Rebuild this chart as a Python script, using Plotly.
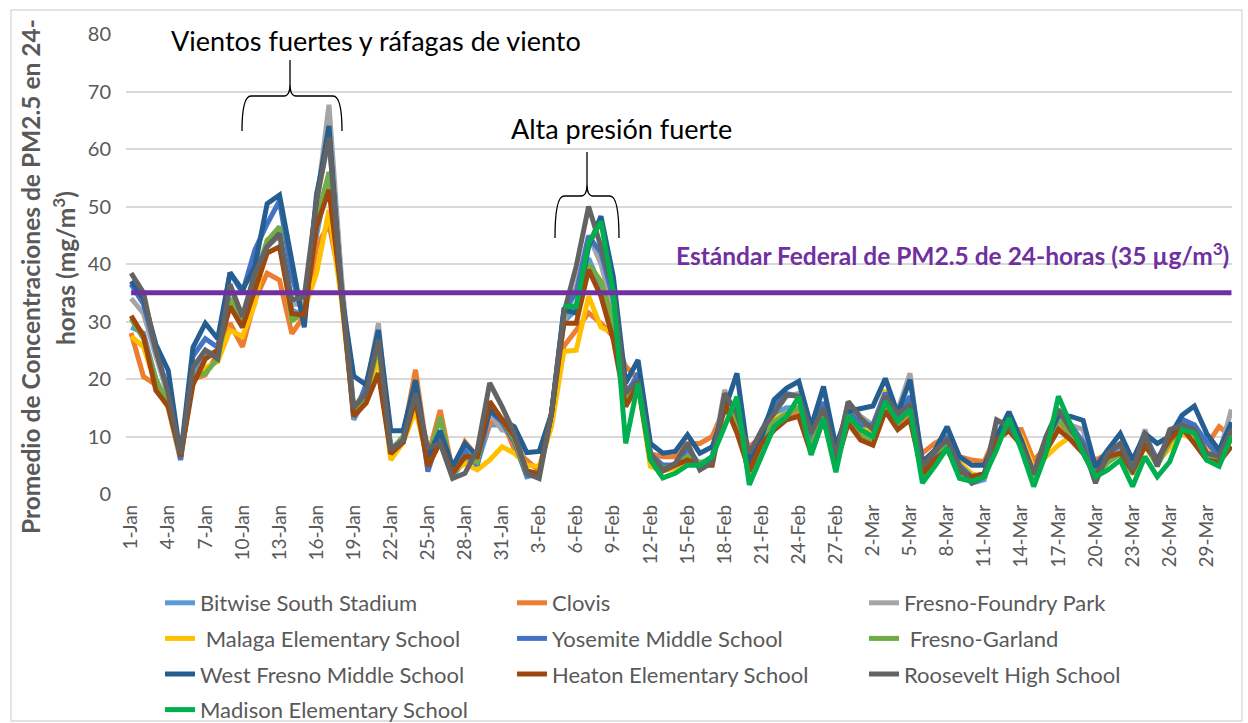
import plotly.graph_objects as go
import pandas as pd

# ---------------- data ----------------
DATES = pd.date_range("2021-01-01", "2021-03-31", freq="D")

STATIONS = [
    "Bitwise South Stadium", "Clovis", "Fresno-Foundry Park",
    " Malaga Elementary School", "Yosemite Middle School", " Fresno-Garland",
    "West Fresno Middle School", "Heaton Elementary School", "Roosevelt High School",
    "Madison Elementary School",
]
COLORS = ["#5B9BD5", "#ED7D31", "#A5A5A5", "#FFC000", "#4472C4", "#70AD47",
          "#255E91", "#9E480E", "#636363", "#00B050"]
LEGEND_COL = ["legend", "legend2", "legend3", "legend", "legend2", "legend3",
              "legend", "legend2", "legend3", "legend"]

bitwise = [29, 28, 20, 15, 5.9, 21, 24, 25, 33, 29,
           36, 43, 45, 32, 31, 45, 56, 36, 12.9, 17,
           25, 6.5, 9, 18, 5, 10, 3, 6, 5.3, 12,
           12, 9, 3, 3.5, 14, 30, 32, 41, 36, 30,
           18, 20, 6.5, 5, 5, 7, 5, 6.5, 16, 13,
           3, 10, 14, 15, 15, 8, 14, 5, 14, 11,
           10.5, 16.5, 13, 15, 3.5, 6, 9, 4, 1.9, 2.5,
           9.5, 12, 9, 3, 8, 13, 11, 8, 3, 6.5,
           7.5, 4, 9, 5, 9.5, 12, 11, 7.5, 6, 10]
clovis = [28, 20.4, 19, 17, 6.5, 20, 20.7, 24.5, 29.7, 25.6,
          33.7, 38.4, 37.2, 27.9, 31, 43, 47, 36, 14, 16,
          24, 7, 10, 21.6, 6.5, 14.6, 4, 9.1, 6.5, 12.3,
          13, 7.7, 5.9, 4, 14, 25.7, 28.5, 31.5, 29.7, 27.4,
          22.2, 20, 7, 6.5, 6.5, 8.8, 8.8, 10, 15, 12,
          8.2, 10, 12.9, 14, 14, 8, 14, 6, 13.5, 11,
          10, 15, 12, 13.5, 7.1, 8.8, 10, 6.5, 5.9, 5.6,
          10.5, 11.2, 11.2, 5.9, 8, 11.7, 10.5, 8, 5.9, 7,
          7.5, 5, 8.5, 6, 9, 11.5, 10, 8.5, 11.7, 10]
foundry_park = [34, 31.4, 24, 17, 6.5, 22, 25, 24, 36, 31,
                38, 44, 45, 33, 33, 51, 67.7, 38, 15, 18,
                29.7, 8, 9.5, 17, 7, 9, 3.5, 6, 6, 14,
                11.1, 11, 4, 3.5, 14, 30, 36, 45, 40, 32,
                16, 19, 7, 5, 5, 8, 5, 6, 18.1, 13,
                6, 10, 14, 17, 17.5, 10, 15, 6, 16, 13.5,
                12, 18, 14.5, 21, 4.5, 7.5, 10, 5, 3, 3.5,
                12.5, 12.5, 9, 3.5, 9.5, 14.5, 12, 11.2, 3, 7,
                8, 4.5, 11.2, 5, 10.5, 12.9, 12, 8, 7, 14.7]
malaga = [27.4, 25.6, 19, 15, 6.5, 20, 22, 23, 28.5, 27.4,
          33, 44.2, 45.5, 30, 32, 38.4, 49.4, 34, 14, 16,
          24, 5.9, 9, 14.6, 6, 10, 4, 5.3, 4.2, 5.9,
          8.2, 7.1, 5, 4.8, 11.7, 24.8, 25, 34.4, 29, 28,
          16, 19, 4.8, 4, 4.5, 6, 5, 6, 15, 12,
          4, 9, 13, 14, 15, 8, 15, 5, 14, 11.5,
          11, 18, 13, 15, 4, 7, 8.5, 5.5, 3.5, 3,
          9.5, 12.5, 10, 4.5, 6.5, 8.5, 10, 7.5, 3, 6,
          7, 4.5, 9, 5.5, 8, 10.5, 9.5, 7.7, 6, 9.5]
yosemite = [36.5, 33, 25, 18, 6, 24, 27, 25.5, 38.5, 35,
            42.4, 47, 51, 38, 30, 52.3, 62, 36, 13.5, 19,
            27, 8, 9, 19.5, 3.9, 10.5, 3.5, 7.5, 5, 14.5,
            12.5, 9, 3.2, 3.5, 14, 32, 35, 44.8, 42, 34,
            17, 21, 7, 5, 5, 8, 5, 6.5, 16.5, 14,
            4, 11, 15.5, 17.5, 17, 9.5, 16, 5.5, 14.5, 12,
            12, 17.6, 13.5, 17, 3.5, 7, 10, 5, 3, 3.5,
            10.5, 12.5, 9, 3.5, 8.5, 13.5, 12, 9, 3.5, 7,
            8.5, 4.5, 10, 6, 10, 13, 12, 9, 6.5, 11.5]
garland = [30.5, 27, 20, 15.5, 6.5, 20.5, 21, 23.5, 34, 30,
           37, 44, 46.5, 30.2, 31.5, 48, 55.8, 35, 14.5, 17,
           26, 7.5, 10, 18.5, 6, 13.4, 3.5, 6.5, 5.5, 16,
           13, 9.5, 3.5, 3.5, 14, 31, 33, 40, 37, 30,
           16, 19.5, 6.5, 4.5, 5, 6.5, 5.5, 6, 16.5, 13,
           3, 9.5, 12.5, 14, 15, 8, 14.5, 5, 13.5, 10,
           9.5, 16, 12.5, 14.5, 3, 5.5, 9, 3.5, 2.5, 3,
           9, 12.5, 8.5, 2.5, 8, 13, 10.5, 7.5, 3, 5.5,
           7, 3.5, 8.5, 5, 9, 11.5, 11, 7, 5.5, 10]
west_fresno = [37, 34, 26, 21.5, 6.5, 25.5, 29.7, 27, 38.5, 35.5,
               39.5, 50.5, 52, 40, 29, 51.5, 64, 35, 20.5, 19,
               28.5, 11, 11, 19.8, 6.5, 11, 4.8, 8.8, 6.5, 14.6,
               12.9, 11.7, 7.2, 7.4, 14, 32, 31.5, 43, 48.3, 37.8,
               19.3, 23.3, 8.8, 7.1, 7.4, 10.3, 7.1, 8.2, 14.6, 21,
               5.3, 10, 16.4, 18.4, 19.6, 11.7, 18.7, 8.3, 14.4, 14.9,
               15.3, 20.1, 14, 19.9, 5.6, 7.6, 11.7, 6.5, 5, 5,
               10, 14.3, 9.4, 3.6, 9, 13.7, 13.5, 12.8, 4.7, 7.7,
               10.5, 5.9, 10.5, 8.8, 10, 13.7, 15.3, 10.5, 7.6, 12.5]
heaton = [31, 27.5, 18, 15.2, 6.5, 19, 23.5, 25, 32.6, 29,
          35.5, 41.9, 43, 31.4, 31.1, 46.5, 52.9, 35, 13.5, 15.8,
          21, 7, 9, 16.5, 4.8, 9, 3.5, 6.5, 6.5, 16.1,
          12.9, 10, 4, 3.5, 14, 29.7, 29.7, 39, 34.4, 26.8,
          15.2, 19, 6, 4, 5, 5.9, 5, 5, 15.8, 10.6,
          4, 8.8, 11.1, 12.9, 13.5, 7, 13, 5, 12.3, 9.4,
          8.5, 14.4, 11.2, 12.9, 3.5, 6, 7.7, 4, 3, 3.5,
          9.4, 11, 8.5, 3.5, 7.5, 11.2, 9.4, 7.1, 3, 6.5,
          7.1, 4, 8.3, 5.9, 9.5, 11.5, 8.8, 5.9, 5.5, 8.3]
roosevelt = [38.4, 35, 25, 17.5, 7, 22, 25, 23.5, 36.5, 30.8,
             38.4, 43, 45.3, 33.7, 34.3, 51, 62, 36, 15, 17.5,
             26.8, 7.7, 9.4, 17.5, 8, 8.8, 2.7, 3.6, 7.7, 19.3,
             15.2, 10.6, 3.6, 2.7, 14, 31.5, 39.6, 50, 43, 35.5,
             17.5, 19.8, 7.1, 4.2, 5.3, 8.8, 4.2, 5.5, 17.5, 14,
             7.1, 11.1, 14, 17.2, 17, 10.6, 15, 6.5, 16.1, 13.2,
             11.2, 17, 14, 15.5, 4.8, 7.5, 9.4, 4.8, 1.9, 3,
             12.9, 11.7, 8.5, 3.6, 10, 14.7, 11.2, 8.3, 1.9, 7.1,
             8.8, 4.2, 10.6, 4.8, 11.2, 12, 11.2, 7.1, 6.5, 11.2]
madison = [None] * 35 + [
           32.7, 32.6, 43.6, 47.4, 35,
           8.8, 19.2, 5.9, 2.8, 3.6, 5, 5, 6.5, 11.7, 16.9,
           1.6, 6.5, 11.7, 13.4, 16.9, 6.8, 13.1, 3.8, 13.7, 11.2,
           10, 16.1, 12.6, 14.7, 1.9, 4.8, 8, 2.7, 2.2, 3,
           7.7, 13.2, 7.7, 1.3, 7.1, 17, 12.3, 7.1, 3, 4.2,
           5.9, 1.3, 6.5, 3, 5.6, 11.2, 10.6, 5.9, 4.8, 10]

SERIES = [bitwise, clovis, foundry_park, malaga, yosemite, garland,
          west_fresno, heaton, roosevelt, madison]

STANDARD = 35
STANDARD_LABEL = "Estándar Federal de PM2.5 de 24-horas (35 µg/m<sup>3</sup>)"
Y_TITLE_1 = "Promedio de Concentraciones de PM2.5 en 24-"
Y_TITLE_2 = "horas (mg/m<sup>3</sup>)"
NOTE_1 = "Vientos fuertes y ráfagas de viento"
NOTE_2 = "Alta presión fuerte"

# ---------------- layout helpers (pixel -> paper) ----------------
W, H = 1248, 723
PL, PR, PT, PB = 126, 1232, 34, 494


def px(x):
    return (x - PL) / (PR - PL)


def py(y):
    return (PB - y) / (PB - PT)


def brace_path(L, R, yb, ym, yt, xm):
    pts = [
        ("M", [(L, yb)]),
        ("Q", [(L, ym), (L + 9, ym)]),
        ("L", [(xm - 6, ym)]),
        ("Q", [(xm, ym), (xm, ym - 12)]),
        ("L", [(xm, yt)]),
        ("M", [(xm, ym - 12)]),
        ("Q", [(xm, ym), (xm + 6, ym)]),
        ("L", [(R - 9, ym)]),
        ("Q", [(R, ym), (R, yb)]),
    ]
    out = []
    for cmd, coords in pts:
        out.append(cmd + " ".join(f"{px(a):.5f},{py(b):.5f}" for a, b in coords))
    return " ".join(out)


FONT = "Lato, 'Open Sans', sans-serif"
GREY = "#595959"

fig = go.Figure()
for i, (name, vals) in enumerate(zip(STATIONS, SERIES)):
    fig.add_trace(go.Scatter(
        x=DATES, y=vals, name=name, mode="lines",
        line=dict(color=COLORS[i], width=5),
        legend=LEGEND_COL[i], legendgroup=f"g{i}",
        connectgaps=False,
    ))

fig.add_trace(go.Scatter(
    x=[DATES[0], DATES[-1]], y=[STANDARD, STANDARD], mode="lines",
    line=dict(color="#7030A0", width=5), showlegend=False, hoverinfo="skip",
))

x_range = [DATES[0] - pd.Timedelta(hours=10), DATES[-1] + pd.Timedelta(hours=1)]

leg_common = dict(
    orientation="v", xanchor="left", yanchor="top",
    font=dict(family=FONT, size=22, color=GREY),
    bgcolor="rgba(0,0,0,0)", borderwidth=0, tracegroupgap=4,
    itemclick=False, itemdoubleclick=False,
)

fig.update_layout(
    width=W, height=H,
    margin=dict(l=PL, r=W - PR, t=PT, b=H - PB, autoexpand=False),
    paper_bgcolor="white", plot_bgcolor="white",
    font=dict(family=FONT, color=GREY),
    xaxis=dict(
        type="date", range=x_range, tick0=DATES[0], dtick=3 * 86400000,
        tickformat="%-d-%b", tickangle=-90,
        tickfont=dict(family=FONT, size=19, color=GREY),
        showgrid=False, zeroline=False, showline=False, ticks="",
        ticklabelstandoff=6, automargin=False,
    ),
    yaxis=dict(
        range=[0, 80], dtick=10, tick0=0,
        tickfont=dict(family=FONT, size=20, color=GREY),
        showgrid=True, gridcolor="#D9D9D9", gridwidth=1.5,
        zeroline=False, showline=False, ticks="", ticklabelstandoff=14,
        automargin=False,
    ),
    legend=dict(x=px(160), y=py(582), **leg_common),
    legend2=dict(x=px(512), y=py(582), **leg_common),
    legend3=dict(x=px(864), y=py(582), **leg_common),
    showlegend=True,
)

annotations = [
    dict(text=f"<b>{Y_TITLE_1}</b>", x=px(30), y=py(277), textangle=-90,
         font=dict(family=FONT, size=24.5, color=GREY)),
    dict(text=f"<b>{Y_TITLE_2}</b>", x=px(64), y=py(268), textangle=-90,
         font=dict(family=FONT, size=24.5, color=GREY)),
    dict(text=NOTE_1, x=px(376), y=py(40),
         font=dict(family=FONT, size=27, color="#000000")),
    dict(text=NOTE_2, x=px(621), y=py(128),
         font=dict(family=FONT, size=27, color="#000000")),
    dict(text=f"<b>{STANDARD_LABEL}</b>", x=px(952), y=py(254),
         font=dict(family=FONT, size=24.5, color="#7030A0")),
]
for a in annotations:
    a.setdefault("xanchor", "center")
    a.update(xref="paper", yref="paper", yanchor="middle", showarrow=False)
    fig.add_annotation(**a)

fig.add_shape(type="path", xref="paper", yref="paper",
              path=brace_path(242, 342, 131, 96, 60, 290),
              line=dict(color="#000000", width=1.3))
fig.add_shape(type="path", xref="paper", yref="paper",
              path=brace_path(555, 619, 238, 196, 152, 587),
              line=dict(color="#000000", width=1.3))
fig.add_shape(type="rect", xref="paper", yref="paper",
              x0=px(11), x1=px(1242), y0=py(721), y1=py(10),
              line=dict(color="#D9D9D9", width=1.3), layer="below")

fig.write_html("out.html", config={"displayModeBar": False},
               post_script="document.body.style.margin='0px';")
